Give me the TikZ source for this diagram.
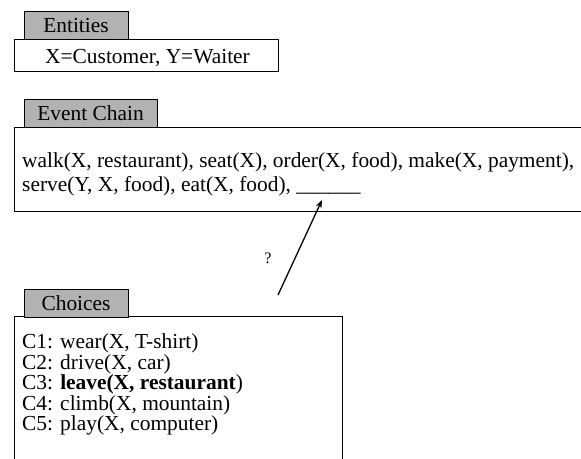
\documentclass[tikz,border=0pt]{standalone}
\usepackage{fontspec}
\setmainfont{Liberation Serif}
\usetikzlibrary{arrows.meta}
\definecolor{tabgray}{gray}{0.7}
\begin{document}
\begin{tikzpicture}[x=1bp,y=-1bp,
  tabbox/.style={draw=black, line width=0.8bp, fill=tabgray, inner sep=0pt, anchor=north west},
  framebox/.style={draw=black, line width=0.8bp, inner sep=0pt, anchor=north west},
  txt/.style={inner sep=0pt, anchor=base west, font=\fontsize{21.4bp}{21.4bp}\selectfont},
  tabtxt/.style={inner sep=0pt, anchor=base, font=\fontsize{21.4bp}{21.4bp}\selectfont},
]
\useasboundingbox (0,0) rectangle (581,459);
\clip (0,0) rectangle (581,459);
% Entities
\node[framebox, minimum width=264bp, minimum height=32bp] (entbox) at (14,39) {};
\node[tabbox, minimum width=104bp, minimum height=28bp] (enttab) at (24,11) {};
\node[tabtxt] (enttabtxt) at (76,32.5) {Entities};
\node[txt] (enttxt) at (45,63.3) {X=Customer, Y=Waiter};
% Event chain
\node[framebox, minimum width=620bp, minimum height=84bp] (evbox) at (14,127) {};
\node[tabbox, minimum width=133bp, minimum height=28bp] (evtab) at (24,99) {};
\node[tabtxt] (evtabtxt) at (90.5,120.3) {Event Chain};
\node[txt] (ev1) at (22,167.5) {walk(X, restaurant), seat(X), order(X, food), make(X, payment),};
\node[txt] (ev2) at (22,191.5) {serve(Y, X, food), eat(X, food), \_\_\_\_\_\_};
% Choices
\node[framebox, minimum width=328bp, minimum height=180bp] (chbox) at (14,316) {};
\node[tabbox, minimum width=104bp, minimum height=28bp] (chtab) at (24,288.5) {};
\node[tabtxt] (chtabtxt) at (76,310.8) {Choices};
\node[txt] (c1) at (22,348.5) {C1: wear(X, T-shirt)};
\node[txt] (c2) at (22,369) {C2: drive(X, car)};
\node[txt] (c3) at (22,389.5) {C3: \textbf{leave(X, restaurant})};
\node[txt] (c4) at (22,410) {C4: climb(X, mountain)};
\node[txt] (c5) at (22,430.5) {C5: play(X, computer)};
% arrow
\coordinate (atail) at (278,295);
\coordinate (ahead) at (322,200);
\draw[line width=1.3bp, -{Stealth[length=8bp,width=6bp]}] (atail) -- (ahead);
\node[inner sep=0pt, font=\fontsize{16bp}{16bp}\selectfont] (q) at (268,258) {?};
\end{tikzpicture}
\end{document}
